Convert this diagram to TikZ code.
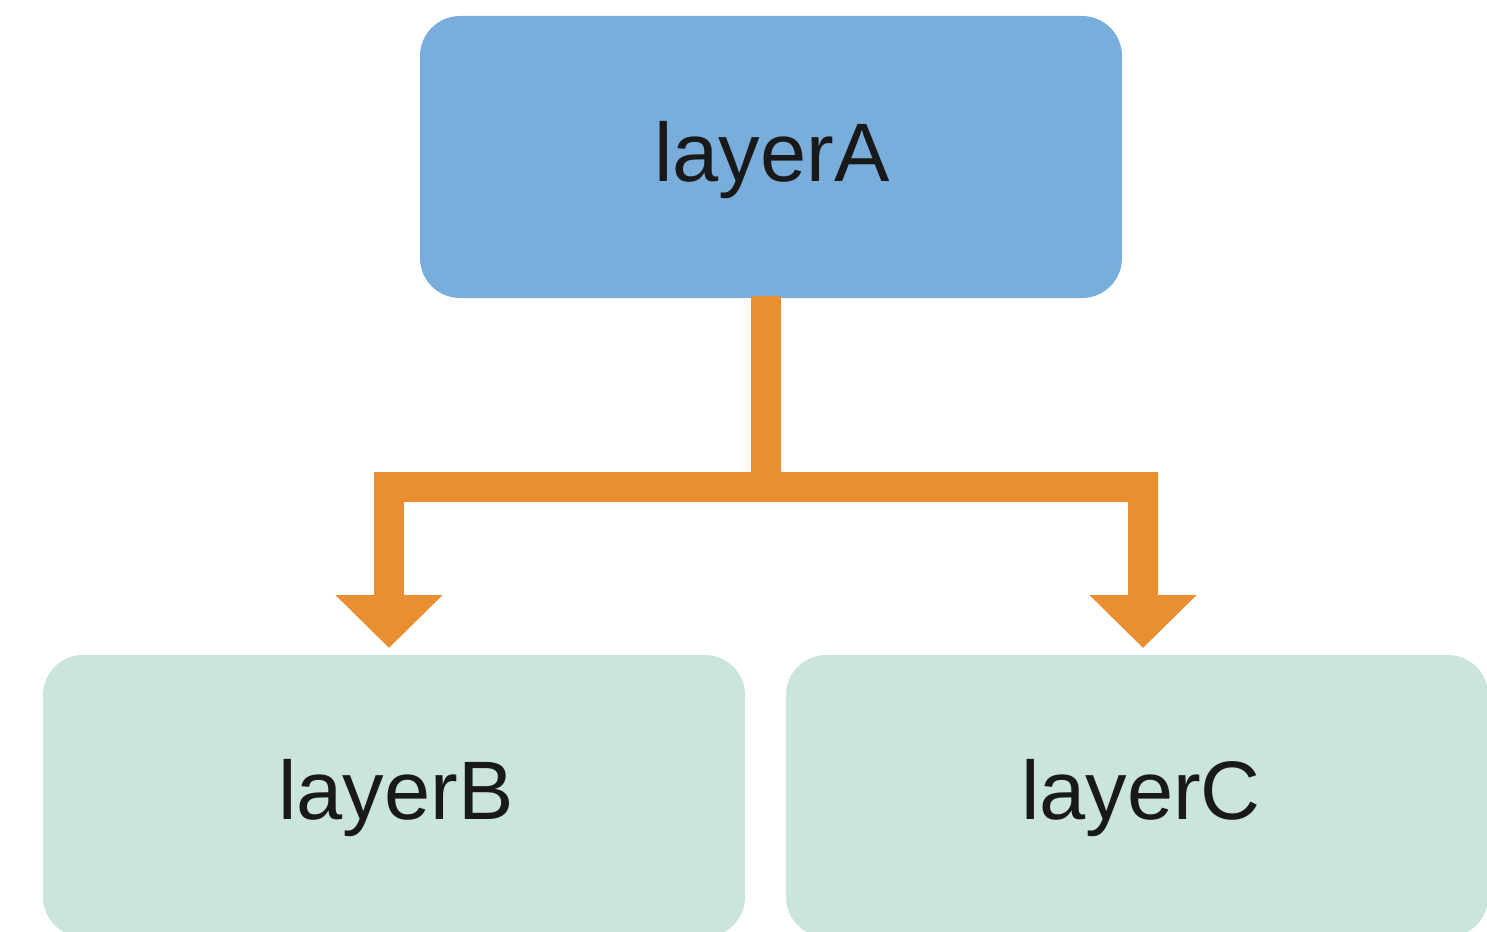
\documentclass[tikz,border=0pt]{standalone}
\usepackage{fontspec}
\setmainfont{Liberation Sans}
\usetikzlibrary{arrows.meta}
\definecolor{boxA}{HTML}{79AEDC}
\definecolor{boxBC}{HTML}{C9E5DE}
\definecolor{conn}{HTML}{E98F31}
\tikzset{
  layerbox/.style={rounded corners=40pt, minimum width=702pt, minimum height=282pt, inner sep=0pt},
  layertext/.style={font=\fontsize{83}{100}\selectfont, text=black!90, inner sep=0pt},
  connline/.style={draw=conn, line width=30pt, line join=miter, -{Triangle[width=104pt,length=53pt]}, shorten >=7pt}
}
\begin{document}
\begin{tikzpicture}[x=1pt,y=-1pt]
\useasboundingbox (0,0) rectangle (1487,931);
\node[layerbox, fill=boxA] (A) at (771,157) {};
\node[layerbox, fill=boxBC] (B) at (394,796) {};
\node[layerbox, fill=boxBC] (C) at (1137,796) {};
\node[layertext] (tA) at (772,160) {layerA};
\node[layertext] (tB) at (396,798) {layerB};
\node[layertext] (tC) at (1141,798) {layerC};
\coordinate (mid) at (766,487);
\coordinate (Bt) at (389,655);
\coordinate (Ct) at (1143,655);
\coordinate (As) at (766,296);
\draw[connline] (As) -- (mid) -| (Bt);
\draw[connline] (As) -- (mid) -| (Ct);
\end{tikzpicture}
\end{document}
